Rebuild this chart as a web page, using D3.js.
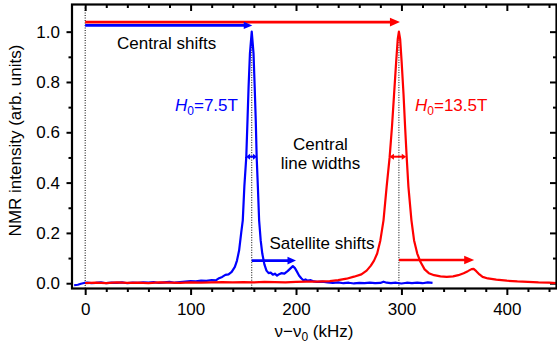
<!DOCTYPE html>
<html>
<head>
<meta charset="utf-8">
<script src="https://cdn.jsdelivr.net/npm/d3@7"></script>
<style>
  body { margin: 0; background: #fff; }
  svg { display: block; font-family: "Liberation Sans", Arial, sans-serif; }
</style>
</head>
<body>
<svg id="chart" width="557" height="347"></svg>
<script>
// spectra: [frequency shift (kHz), intensity]
const blueSpectrum = [
    [-10.5,-0.008],[-7,-0.006],[-4,-0.002],[-1,0.001],[2,0.002],[6,0.0],[10,0.001],[15,0.003],[20,0.0],
    [25,0.002],[30,0.001],[35,0.003],[40,0.0],[45,0.002],[50,0.001],[55,0.003],[60,0.002],[65,0.004],
    [70,0.001],[75,0.003],[80,0.005],[85,0.002],[90,0.004],[95,0.006],[100,0.008],[105,0.007],[110,0.01],
    [115,0.009],[120,0.012],[124,0.011],[127,0.02],[130,0.025],[133,0.033],[136,0.035],[139,0.045],
    [142,0.065],[144,0.09],[146,0.13],[148,0.2],[149.5,0.25],[151,0.385],[152.8,0.5],[154,0.65],
    [155,0.78],[156.3,0.914],[158,1.0],[159.7,0.914],[160.8,0.78],[161.8,0.65],[162.7,0.5],[163.8,0.385],
    [165,0.25],[166.5,0.17],[168,0.118],[170,0.075],[172,0.05],[174,0.04],[176,0.042],[178,0.034],
    [180,0.038],[182,0.03],[184,0.036],[186,0.04],[189,0.038],[192,0.048],[195,0.06],[197,0.068],
    [199,0.06],[201,0.045],[203,0.03],[205,0.02],[207,0.012],[209,0.015],[211,0.01],[214,0.012],
    [217,0.007],[220,0.005],[225,0.006],[230,0.003],[235,0.001],[240,0.003],[245,0.0],[250,0.002],
    [255,-0.001],[260,0.001],[265,0.0],[270,0.002],[275,0.0],[280,0.001],[283,0.006],[286,0.002],
    [290,0.0],[295,0.002],[300,-0.001],[305,0.002],[310,0.0],[315,0.002],[320,0.0],[325,0.003],[329.5,0.001]
];
const redSpectrum = [
    [0,0.0],[10,0.002],[20,0.0],[30,0.003],[40,0.001],[50,0.002],[60,0.0],[70,0.003],[80,0.002],
    [90,0.001],[100,0.003],[110,0.002],[120,0.003],[130,0.004],[140,0.003],[150,0.004],[160,0.003],
    [170,0.005],[180,0.004],[190,0.003],[200,0.005],[210,0.006],[220,0.006],[232,0.008],[240,0.012],
    [248,0.018],[255,0.026],[262,0.035],[267,0.05],[271,0.07],[274,0.09],[277,0.118],[280,0.17],
    [283,0.25],[286,0.385],[288.8,0.5],[291,0.62],[293,0.75],[295,0.88],[296.5,0.97],[297.6,1.0],
    [298.8,0.97],[300.2,0.88],[302,0.75],[303.5,0.62],[305,0.5],[306.6,0.385],[309.5,0.25],[312,0.17],
    [315,0.118],[318,0.085],[322,0.055],[326,0.04],[331,0.032],[337,0.027],[343,0.025],[349,0.027],
    [354,0.032],[359,0.04],[363,0.048],[366.5,0.056],[368.5,0.057],[371,0.048],[374,0.035],[377,0.025],
    [382,0.019],[390,0.014],[400,0.01],[410,0.007],[420,0.005],[430,0.003],[440,0.002],[447,0.0]
];

const xMajorTicks = [0, 100, 200, 300, 400];
const xMinorTicks = [20, 40, 60, 80, 120, 140, 160, 180, 220, 240, 260, 280, 320, 340, 360, 380, 420, 440];
const yMajorTicks = [0, 0.2, 0.4, 0.6, 0.8, 1.0];
const yMinorTicks = [0.1, 0.3, 0.5, 0.7, 0.9];

// peak positions, shifts and half-width markers (kHz / intensity)
const bluePeak = 158;
const redPeak = 297.6;
const blueSatellite = 200;
const redSatellite = 369;
const blueHalfWidth = [152.6, 163.0];
const redHalfWidth = [288.6, 304.6];

const blue = "#0000ff";
const red = "#ff0000";

const svg = d3.select("#chart");
const plot = { left: 72, right: 556.5, top: 4.5, bottom: 288.5 };

const x = d3.scaleLinear().domain([-12.5, 447.1]).range([plot.left, plot.right]);
const y = d3.scaleLinear().domain([-0.021, 1.108]).range([plot.bottom, plot.top]);

const styleAxis = (g) => {
    g.select(".domain").remove();
    g.selectAll("line").attr("stroke", "#000").attr("stroke-width", 2);
    g.selectAll("text").attr("font-size", 17).attr("fill", "#000")
        .attr("font-family", '"Liberation Sans", Arial, sans-serif');
};

// bottom axis (ticks out) and top mirror (ticks in)
svg.append("g").attr("transform", `translate(0,${plot.bottom})`)
    .call(d3.axisBottom(x).tickValues(xMajorTicks).tickSize(6.5).tickPadding(8).tickFormat(d3.format("d")))
    .call(styleAxis);
svg.append("g").attr("transform", `translate(0,${plot.bottom})`)
    .call(d3.axisBottom(x).tickValues(xMinorTicks).tickSize(3.5).tickFormat(""))
    .call(styleAxis);
svg.append("g").attr("transform", `translate(0,${plot.top})`)
    .call(d3.axisTop(x).tickValues(xMajorTicks).tickSize(-6.5).tickFormat(""))
    .call(styleAxis);
svg.append("g").attr("transform", `translate(0,${plot.top})`)
    .call(d3.axisTop(x).tickValues(xMinorTicks).tickSize(-3.5).tickFormat(""))
    .call(styleAxis);

// left axis (ticks out) and right mirror (ticks in)
svg.append("g").attr("transform", `translate(${plot.left},0)`)
    .call(d3.axisLeft(y).tickValues(yMajorTicks).tickSize(5.5).tickPadding(6.5).tickFormat(d3.format(".1f")))
    .call(styleAxis);
svg.append("g").attr("transform", `translate(${plot.left},0)`)
    .call(d3.axisLeft(y).tickValues(yMinorTicks).tickSize(3.5).tickFormat(""))
    .call(styleAxis);
svg.append("g").attr("transform", `translate(${plot.right},0)`)
    .call(d3.axisRight(y).tickValues(yMajorTicks).tickSize(-6.5).tickFormat(""))
    .call(styleAxis);
svg.append("g").attr("transform", `translate(${plot.right},0)`)
    .call(d3.axisRight(y).tickValues(yMinorTicks).tickSize(-3.5).tickFormat(""))
    .call(styleAxis);

// dotted guides at zero and at both peaks
const guides = [[0, y.domain()[1]], [bluePeak, 1.0], [redPeak, 1.0]];
svg.append("g").selectAll("line").data(guides).enter().append("line")
    .attr("x1", d => x(d[0])).attr("x2", d => x(d[0]))
    .attr("y1", d => y(d[1]) + 3).attr("y2", plot.bottom)
    .attr("stroke", "#000").attr("stroke-width", 1).attr("stroke-dasharray", "1,1.5");

// spectra
const line = d3.line().x(d => x(d[0])).y(d => y(d[1]));
svg.append("path").datum(blueSpectrum).attr("d", line)
    .attr("fill", "none").attr("stroke", blue).attr("stroke-width", 2.2).attr("stroke-linejoin", "round");
svg.append("path").datum(redSpectrum).attr("d", line)
    .attr("fill", "none").attr("stroke", red).attr("stroke-width", 2.2).attr("stroke-linejoin", "round");

// horizontal arrows; head at the x2 end, optionally also at x1
function hArrow(x1, x2, yv, color, opt) {
    const px1 = x(x1), px2 = x(x2), py = y(yv);
    const len = opt.len, hw = opt.hw;
    const g = svg.append("g");
    g.append("line")
        .attr("x1", opt.both ? px1 + len * 0.8 : px1).attr("x2", px2 - len * 0.8)
        .attr("y1", py).attr("y2", py)
        .attr("stroke", color).attr("stroke-width", opt.w);
    g.append("path")
        .attr("d", `M${px2},${py}L${px2 - len},${py - hw}L${px2 - len},${py + hw}Z`)
        .attr("fill", color);
    if (opt.both) {
        g.append("path")
            .attr("d", `M${px1},${py}L${px1 + len},${py - hw}L${px1 + len},${py + hw}Z`)
            .attr("fill", color);
    }
}

// central shifts
hArrow(0, redPeak + 1, 1.038, red, { len: 10, hw: 4.3, w: 2.6 });
hArrow(0, bluePeak + 0.5, 1.025, blue, { len: 8.5, hw: 3.6, w: 2.6 });
// satellite shifts
hArrow(bluePeak, blueSatellite, 0.09, blue, { len: 8.5, hw: 3.8, w: 2.6 });
hArrow(redPeak, redSatellite, 0.092, red, { len: 10, hw: 4.3, w: 2.6 });
// central line widths
hArrow(blueHalfWidth[0], blueHalfWidth[1], 0.503, blue, { len: 4, hw: 3, w: 2, both: true });
hArrow(redHalfWidth[0], redHalfWidth[1], 0.503, red, { len: 4.5, hw: 3, w: 2, both: true });

// frame
svg.append("rect")
    .attr("x", plot.left).attr("y", plot.top)
    .attr("width", plot.right - plot.left).attr("height", plot.bottom - plot.top)
    .attr("fill", "none").attr("stroke", "#000").attr("stroke-width", 2.2);

// annotations
const txt = (tx, ty, s, color, anchor) => svg.append("text")
    .attr("x", tx).attr("y", ty).attr("font-size", 17).attr("fill", color || "#000")
    .attr("text-anchor", anchor || "start").text(s);

txt(117, 49, "Central shifts");
txt(320.5, 150, "Central", "#000", "middle");
txt(320.5, 168.5, "line widths", "#000", "middle");
txt(269.5, 249, "Satellite shifts");

function fieldLabel(tx, s, color) {
    const t = svg.append("text").attr("x", tx).attr("y", 111).attr("font-size", 17).attr("fill", color);
    t.append("tspan").attr("font-style", "italic").text("H");
    t.append("tspan").attr("font-size", 12).attr("dy", 4).text("0");
    t.append("tspan").attr("dy", -4).text(s);
}
fieldLabel(175, "=7.5T", blue);
fieldLabel(415, "=13.5T", red);

// axis titles
const xt = svg.append("text").attr("x", 314).attr("y", 337).attr("font-size", 17)
    .attr("text-anchor", "middle").attr("fill", "#000");
xt.append("tspan").text("\u03bd\u2212\u03bd");
xt.append("tspan").attr("font-size", 12).attr("dy", 4).text("0");
xt.append("tspan").attr("dy", -4).text(" (kHz)");

svg.append("text").attr("transform", "translate(21,140.5) rotate(-90)")
    .attr("font-size", 17).attr("text-anchor", "middle").attr("fill", "#000")
    .text("NMR intensity (arb. units)");
</script>
</body>
</html>
